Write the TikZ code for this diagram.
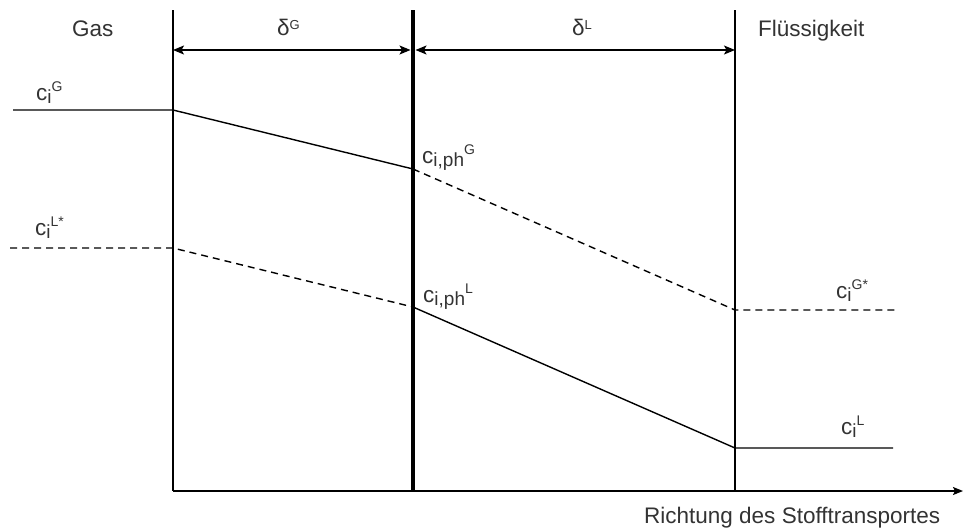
\documentclass[tikz,border=0pt]{standalone}
\usepackage{fontspec}
\setmainfont{Liberation Sans}
\usetikzlibrary{arrows.meta}
\newcommand\lsub[1]{\raisebox{-3pt}{\fontsize{19}{19}\selectfont #1}}
\newcommand\lsup[1]{\raisebox{8.5pt}{\fontsize{14}{14}\selectfont #1}}
\newcommand\dsup[1]{\raisebox{6pt}{\fontsize{13}{13}\selectfont #1}}
\begin{document}
\begin{tikzpicture}[x=1pt,y=-1pt,
  lbl/.style={inner sep=0pt, anchor=base west, font=\fontsize{22.5}{26}\selectfont, text=black!80},
  ln/.style={line width=1.4pt, black},
  dsh/.style={line width=1.4pt, black, dash pattern=on 7pt off 5pt},
  thick line/.style={line width=4.5pt, black},
  tipboth/.style={{Stealth[length=11pt,width=9pt,inset=2.5pt]}-{Stealth[length=11pt,width=9pt,inset=2.5pt]}},
  tipend/.style={-{Stealth[length=10pt,width=8pt,inset=2pt]}}]
\useasboundingbox (0,0) rectangle (963,528);

% coordinates
\coordinate (v1t) at (173,10);  \coordinate (v1b) at (173,491);
\coordinate (v2t) at (413,10);  \coordinate (v2b) at (413,491);
\coordinate (v3t) at (735,10);  \coordinate (v3b) at (735,491);
\coordinate (ax) at (963,491);
\coordinate (a1) at (173,50); \coordinate (a2l) at (410.5,50);
\coordinate (a2r) at (415.5,50); \coordinate (a3) at (735,50);
\coordinate (gL) at (13,110); \coordinate (gA) at (173,110);
\coordinate (gB) at (413,169); \coordinate (gC) at (735,310); \coordinate (gD) at (895,310);
\coordinate (lL) at (10,248); \coordinate (lA) at (173,248);
\coordinate (lB) at (413,307); \coordinate (lC) at (735,448); \coordinate (lD) at (893,448);

% verticals and axis
\draw[ln] (v1t) -- (v1b);
\draw[ln] (v3t) -- (v3b);
\draw[ln, tipend] (v1b) -- (ax);

% profiles
\draw[ln] (gL) -- (gA) -- (gB);
\draw[dsh] (gB) -- (gC) -- (gD);
\draw[dsh] (lL) -- (lA) -- (lB);
\draw[ln] (lB) -- (lC) -- (lD);

\draw[thick line] (v2t) -- (v2b);

% dimension arrows
\draw[ln, tipboth] (a1) -- (a2l);
\draw[ln, tipboth] (a2r) -- (a3);

% labels
\node[lbl] (gas) at (72,36.5) {Gas};
\node[lbl] (dG) at (277,35) {δ\dsup{G}};
\node[lbl] (dL) at (572,35) {δ\dsup{L}};
\node[lbl] (fl) at (758,36.5) {Flüssigkeit};
\node[lbl] (ciG) at (36,100) {c\lsub{i}\lsup{G}};
\node[lbl] (ciphG) at (422,163) {c\lsub{i,ph}\lsup{G}};
\node[lbl] (ciL*) at (35,235) {c\lsub{i}\lsup{L*}};
\node[lbl] (ciphL) at (423,302) {c\lsub{i,ph}\lsup{L}};
\node[lbl] (ciG*) at (836,298) {c\lsub{i}\lsup{G*}};
\node[lbl] (ciL) at (841,434) {c\lsub{i}\lsup{L}};
\node[lbl] (richt) at (644,523) {Richtung des Stofftransportes};
\end{tikzpicture}
\end{document}
